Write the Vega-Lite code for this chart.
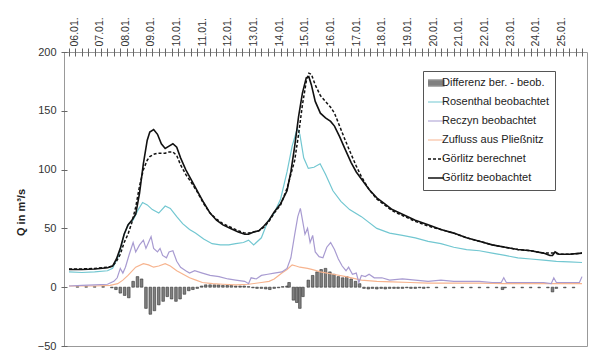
{
  "$schema": "https://vega.github.io/schema/vega-lite/v6.json",
  "width": 523,
  "height": 294,
  "autosize": "none",
  "padding": {"left": 64, "top": 52, "right": 24, "bottom": 13},
  "background": "white",
  "config": {
    "view": {"stroke": "#999", "strokeWidth": 1},
    "font": "Liberation Sans",
    "axis": {"labelFont": "Liberation Sans", "labelFontSize": 11, "labelColor": "#333", "titleFont": "Liberation Sans", "grid": false}
  },
  "encoding": {
    "x": {
      "field": "d", "type": "quantitative",
      "scale": {"domain": [6, 26], "nice": false, "zero": false},
      "axis": {
        "orient": "top", "title": null, "domain": false, "offset": -4, "tickSize": 8, "tickColor": "#666",
        "values": [6,6.25,6.5,6.75,7,7.25,7.5,7.75,8,8.25,8.5,8.75,9,9.25,9.5,9.75,10,10.25,10.5,10.75,11,11.25,11.5,11.75,12,12.25,12.5,12.75,13,13.25,13.5,13.75,14,14.25,14.5,14.75,15,15.25,15.5,15.75,16,16.25,16.5,16.75,17,17.25,17.5,17.75,18,18.25,18.5,18.75,19,19.25,19.5,19.75,20,20.25,20.5,20.75,21,21.25,21.5,21.75,22,22.25,22.5,22.75,23,23.25,23.5,23.75,24,24.25,24.5,24.75,25,25.25,25.5,25.75,26],
        "labelExpr": "datum.value % 1 == 0 && datum.value < 26 ? ((datum.value < 10 ? '0' : '') + datum.value + '.01.') : ''",
        "labelAngle": -90, "labelAlign": "left", "labelBaseline": "top", "labelPadding": 2,
        "labelOverlap": false, "labelBound": false, "labelFontSize": 10.5
      }
    },
    "y": {
      "field": "q", "type": "quantitative",
      "scale": {"domain": [-50, 200], "nice": false, "zero": false},
      "axis": {
        "title": "Q in m³/s", "titleFontWeight": "bold", "titleFontSize": 11, "titleColor": "#222",
        "titleX": -46, "titleY": 160, "titleAngle": -90, "titleAlign": "center", "titleBaseline": "middle",
        "domain": false, "offset": -3, "tickSize": 6, "tickColor": "#666",
        "values": [-50, 0, 50, 100, 150, 200], "labelPadding": 5
      }
    }
  },
  "layer": [
    {
      "data": {"values": [{"z": 0}]},
      "mark": {"type": "rule", "color": "#444", "strokeWidth": 1},
      "encoding": {"x": {"datum": 6}, "x2": {"datum": 26}, "y": {"datum": 0}}
    },
    {
      "data": {"values": [
        {"d":6.33,"q":0.5},{"d":6.67,"q":0.5},{"d":7.0,"q":0.5},{"d":7.33,"q":0.5},{"d":7.67,"q":-0.5},{"d":7.83,"q":-2},{"d":8.0,"q":-5},{"d":8.17,"q":-7},{"d":8.33,"q":-9},{"d":8.5,"q":5},{"d":8.67,"q":9},{"d":8.83,"q":7},{"d":9.0,"q":-18},{"d":9.17,"q":-23},{"d":9.33,"q":-20},{"d":9.5,"q":-15},{"d":9.67,"q":-12},{"d":9.83,"q":-8},{"d":10.0,"q":-10},{"d":10.17,"q":-12},{"d":10.33,"q":-10},{"d":10.5,"q":-6},{"d":10.67,"q":-3},{"d":10.83,"q":-2},{"d":11.0,"q":-1},{"d":11.17,"q":1},{"d":11.33,"q":2},{"d":11.5,"q":2},{"d":11.67,"q":2},{"d":11.83,"q":2},{"d":12.0,"q":1.5},{"d":12.17,"q":1.5},{"d":12.33,"q":1.5},{"d":12.5,"q":1},{"d":12.67,"q":1},{"d":12.83,"q":1},{"d":13.0,"q":0.5},{"d":13.17,"q":-0.5},{"d":13.33,"q":-1},{"d":13.5,"q":-1},{"d":13.67,"q":-1.5},{"d":13.83,"q":-2},{"d":14.0,"q":-1},{"d":14.17,"q":-0.5},{"d":14.33,"q":0.5},{"d":14.5,"q":1},{"d":14.58,"q":4},{"d":14.75,"q":-11},{"d":14.88,"q":-13},{"d":15.0,"q":-18},{"d":15.12,"q":-8},{"d":15.33,"q":6},{"d":15.5,"q":10},{"d":15.67,"q":13},{"d":15.83,"q":15},{"d":16.0,"q":16},{"d":16.17,"q":13},{"d":16.33,"q":11},{"d":16.5,"q":9},{"d":16.67,"q":8},{"d":16.83,"q":9},{"d":17.0,"q":7},{"d":17.17,"q":5},{"d":17.33,"q":3},{"d":17.5,"q":-1},{"d":17.67,"q":-1.5},{"d":17.83,"q":-1},{"d":18.0,"q":-1.5},{"d":18.17,"q":-1},{"d":18.33,"q":-1.5},{"d":18.5,"q":-1},{"d":18.67,"q":-1},{"d":18.83,"q":-1},{"d":19.0,"q":-1},{"d":19.17,"q":-0.5},{"d":19.33,"q":-1},{"d":19.5,"q":-1},{"d":19.67,"q":-0.5},{"d":19.83,"q":-1},{"d":20.0,"q":-0.5},{"d":20.33,"q":-0.5},{"d":20.67,"q":-0.5},{"d":21.0,"q":-0.5},{"d":21.33,"q":-0.5},{"d":21.67,"q":-0.5},{"d":22.0,"q":-0.5},{"d":22.33,"q":-0.5},{"d":22.67,"q":-0.5},{"d":22.9,"q":-2},{"d":23.0,"q":-0.5},{"d":23.33,"q":-0.5},{"d":23.67,"q":-0.5},{"d":24.0,"q":-0.5},{"d":24.33,"q":-0.5},{"d":24.67,"q":-0.5},{"d":24.85,"q":-4},{"d":25.0,"q":-1},{"d":25.33,"q":-0.5},{"d":25.67,"q":-0.5}
      ]},
      "mark": {"type": "bar", "orient": "vertical", "size": 2.6, "fill": "#808080", "stroke": "#333", "strokeWidth": 0.6},
      "encoding": {"y2": {"datum": 0}}
    },
    {
      "data": {"values": [
        {"d":6,"q":1},{"d":7,"q":1},{"d":7.6,"q":1.5},{"d":7.9,"q":3},{"d":8.1,"q":6},{"d":8.3,"q":10},{"d":8.6,"q":17},{"d":8.9,"q":20},{"d":9.1,"q":19},{"d":9.3,"q":17},{"d":9.5,"q":18},{"d":9.75,"q":20},{"d":9.95,"q":18},{"d":10.2,"q":14},{"d":10.45,"q":11},{"d":10.7,"q":8},{"d":10.95,"q":6},{"d":11.2,"q":4},{"d":11.6,"q":3},{"d":12.0,"q":2.5},{"d":12.5,"q":2},{"d":13.0,"q":2.5},{"d":13.5,"q":4},{"d":13.8,"q":5},{"d":14.0,"q":7},{"d":14.3,"q":12},{"d":14.5,"q":15},{"d":14.7,"q":19},{"d":14.85,"q":18},{"d":15.0,"q":17},{"d":15.3,"q":16},{"d":15.5,"q":15},{"d":15.8,"q":13},{"d":16.3,"q":11},{"d":16.8,"q":9},{"d":17.4,"q":6},{"d":18.0,"q":5},{"d":18.6,"q":4.5},{"d":19.3,"q":4},{"d":20.0,"q":3.5},{"d":21.0,"q":3.5},{"d":22.0,"q":3.5},{"d":23.0,"q":3},{"d":24.0,"q":3},{"d":25.0,"q":3},{"d":26.0,"q":3}
      ]},
      "mark": {"type": "line", "strokeWidth": 1.2},
      "encoding": {
        "color": {
          "datum": "Zufluss aus Pließnitz",
          "scale": {
            "domain": ["Differenz ber. - beob.", "Rosenthal beobachtet", "Reczyn beobachtet", "Zufluss aus Pließnitz", "Görlitz berechnet", "Görlitz beobachtet"],
            "range": ["#9a9a9a", "#72c7d1", "#a89bd1", "#f7b48f", "#111111", "#111111"]
          },
          "legend": {
            "title": null, "orient": "none", "legendX": 359, "legendY": 19, "padding": 5,
            "strokeColor": "#555", "fillColor": "white",
            "labelFont": "Liberation Sans", "labelFontSize": 11, "labelColor": "#222", "labelLimit": 200,
            "symbolType": "stroke", "symbolSize": 441, "symbolStrokeWidth": 1.3,
            "clipHeight": 14, "rowPadding": 5, "labelOffset": 3,
            "encode": {
              "symbols": {
                "update": {
                  "shape": {"signal": "datum.value === 'Differenz ber. - beob.' ? 'M-1,-0.3H1V0.3H-1Z' : 'stroke'"},
                  "fill": {"signal": "datum.value === 'Differenz ber. - beob.' ? '#808080' : 'transparent'"},
                  "stroke": {"signal": "datum.value === 'Differenz ber. - beob.' ? '#333' : scale('color', datum.value)"},
                  "strokeDash": {"signal": "datum.value === 'Görlitz berechnet' ? [3, 2] : [1, 0]"},
                  "strokeWidth": {"signal": "(datum.value === 'Görlitz berechnet' || datum.value === 'Görlitz beobachtet') ? 1.6 : 1.2"}
                }
              }
            }
          }
        }
      }
    },
    {
      "data": {"values": [
        {"d":6,"q":1},{"d":6.5,"q":1.5},{"d":7,"q":2},{"d":7.5,"q":2.5},{"d":7.75,"q":5},{"d":7.88,"q":8},{"d":8.0,"q":16},{"d":8.1,"q":12},{"d":8.2,"q":17},{"d":8.35,"q":28},{"d":8.5,"q":38},{"d":8.6,"q":30},{"d":8.75,"q":36},{"d":8.9,"q":40},{"d":9.0,"q":33},{"d":9.1,"q":38},{"d":9.2,"q":43},{"d":9.3,"q":33},{"d":9.45,"q":30},{"d":9.55,"q":33},{"d":9.65,"q":27},{"d":9.8,"q":25},{"d":9.9,"q":30},{"d":10.05,"q":31},{"d":10.2,"q":22},{"d":10.35,"q":17},{"d":10.55,"q":14},{"d":10.7,"q":12},{"d":10.9,"q":14},{"d":11.2,"q":12},{"d":11.5,"q":10},{"d":11.85,"q":9},{"d":12.2,"q":7},{"d":12.5,"q":6},{"d":12.85,"q":5},{"d":13.0,"q":3},{"d":13.1,"q":8},{"d":13.3,"q":7},{"d":13.5,"q":10},{"d":13.75,"q":11},{"d":14.0,"q":12},{"d":14.3,"q":13},{"d":14.5,"q":16},{"d":14.65,"q":25},{"d":14.8,"q":45},{"d":14.92,"q":60},{"d":15.02,"q":67},{"d":15.12,"q":55},{"d":15.2,"q":45},{"d":15.3,"q":50},{"d":15.4,"q":38},{"d":15.5,"q":44},{"d":15.6,"q":30},{"d":15.75,"q":26},{"d":15.9,"q":25},{"d":16.05,"q":34},{"d":16.2,"q":38},{"d":16.35,"q":32},{"d":16.5,"q":24},{"d":16.65,"q":18},{"d":16.8,"q":14},{"d":16.9,"q":17},{"d":17.05,"q":11},{"d":17.2,"q":12},{"d":17.3,"q":4},{"d":17.4,"q":10},{"d":17.55,"q":9},{"d":17.7,"q":11},{"d":17.9,"q":8},{"d":18.2,"q":8},{"d":18.5,"q":6},{"d":19.0,"q":7},{"d":19.5,"q":6},{"d":20.0,"q":5},{"d":20.5,"q":6},{"d":21.0,"q":5},{"d":21.5,"q":5},{"d":22.0,"q":5},{"d":22.5,"q":4},{"d":22.85,"q":4},{"d":22.95,"q":8},{"d":23.05,"q":4},{"d":23.5,"q":4},{"d":24.0,"q":4},{"d":24.5,"q":4},{"d":24.8,"q":3},{"d":24.9,"q":8},{"d":25.0,"q":4},{"d":25.5,"q":4},{"d":25.9,"q":4},{"d":26.0,"q":9}
      ]},
      "mark": {"type": "line", "strokeWidth": 1.2},
      "encoding": {"color": {"datum": "Reczyn beobachtet"}}
    },
    {
      "data": {"values": [
        {"d":6,"q":13},{"d":6.5,"q":12.5},{"d":7,"q":13},{"d":7.5,"q":14},{"d":7.7,"q":16},{"d":7.9,"q":25},{"d":8.0,"q":32},{"d":8.15,"q":45},{"d":8.33,"q":54},{"d":8.5,"q":57},{"d":8.7,"q":66},{"d":8.87,"q":72},{"d":9.05,"q":70},{"d":9.25,"q":66},{"d":9.5,"q":63},{"d":9.75,"q":69},{"d":9.95,"q":67},{"d":10.2,"q":60},{"d":10.43,"q":54},{"d":10.7,"q":49},{"d":10.93,"q":46},{"d":11.25,"q":41},{"d":11.58,"q":37},{"d":11.9,"q":36},{"d":12.23,"q":36},{"d":12.5,"q":37},{"d":12.8,"q":38},{"d":13.0,"q":40},{"d":13.2,"q":36},{"d":13.5,"q":42},{"d":13.75,"q":56},{"d":14.0,"q":63},{"d":14.25,"q":75},{"d":14.5,"q":98},{"d":14.7,"q":120},{"d":14.9,"q":135},{"d":15.0,"q":130},{"d":15.15,"q":110},{"d":15.33,"q":101},{"d":15.55,"q":102},{"d":15.79,"q":105},{"d":16.0,"q":96},{"d":16.29,"q":82},{"d":16.6,"q":73},{"d":16.94,"q":66},{"d":17.4,"q":60},{"d":18.0,"q":50},{"d":18.5,"q":46},{"d":19.0,"q":44},{"d":19.5,"q":42},{"d":20.0,"q":39},{"d":20.5,"q":37},{"d":21.0,"q":34},{"d":21.5,"q":32},{"d":22.0,"q":31},{"d":22.5,"q":29},{"d":23.0,"q":27},{"d":23.5,"q":25},{"d":24.0,"q":24},{"d":24.5,"q":23},{"d":25.0,"q":22},{"d":25.5,"q":21.5},{"d":26.0,"q":21}
      ]},
      "mark": {"type": "line", "strokeWidth": 1.2},
      "encoding": {"color": {"datum": "Rosenthal beobachtet"}}
    },
    {
      "data": {"values": [
        {"d":6,"q":15.5},{"d":6.5,"q":15.5},{"d":7,"q":16},{"d":7.5,"q":17},{"d":7.7,"q":18},{"d":7.85,"q":22},{"d":8,"q":28},{"d":8.15,"q":38},{"d":8.3,"q":45},{"d":8.45,"q":55},{"d":8.6,"q":68},{"d":8.75,"q":86},{"d":8.9,"q":100},{"d":9.05,"q":108},{"d":9.15,"q":111},{"d":9.3,"q":113},{"d":9.45,"q":114},{"d":9.6,"q":114},{"d":9.75,"q":114},{"d":9.9,"q":115},{"d":10.05,"q":115},{"d":10.2,"q":112},{"d":10.35,"q":104},{"d":10.55,"q":96},{"d":10.8,"q":88},{"d":11.0,"q":81},{"d":11.25,"q":71},{"d":11.5,"q":63},{"d":11.75,"q":58},{"d":12.0,"q":54},{"d":12.3,"q":51},{"d":12.6,"q":48},{"d":12.85,"q":46},{"d":13.0,"q":46},{"d":13.2,"q":47},{"d":13.4,"q":48},{"d":13.6,"q":51},{"d":13.8,"q":56},{"d":14.0,"q":63},{"d":14.25,"q":70},{"d":14.5,"q":84},{"d":14.65,"q":96},{"d":14.8,"q":108},{"d":14.95,"q":130},{"d":15.1,"q":155},{"d":15.25,"q":175},{"d":15.35,"q":182},{"d":15.45,"q":181},{"d":15.6,"q":172},{"d":15.8,"q":163},{"d":16.0,"q":158},{"d":16.2,"q":153},{"d":16.35,"q":148},{"d":16.55,"q":137},{"d":16.75,"q":126},{"d":17.0,"q":113},{"d":17.2,"q":103},{"d":17.4,"q":94},{"d":17.7,"q":83},{"d":18.0,"q":75},{"d":18.3,"q":70},{"d":18.6,"q":65},{"d":19.0,"q":61},{"d":19.5,"q":56},{"d":20.0,"q":52},{"d":20.5,"q":49},{"d":21.0,"q":46},{"d":21.5,"q":42},{"d":22.0,"q":39},{"d":22.5,"q":36},{"d":23.0,"q":34},{"d":23.5,"q":32},{"d":24.0,"q":31},{"d":24.5,"q":29},{"d":24.75,"q":29},{"d":24.95,"q":29},{"d":25.1,"q":28},{"d":25.5,"q":28},{"d":26,"q":29}
      ]},
      "mark": {"type": "line", "strokeWidth": 1.5, "strokeDash": [3, 2]},
      "encoding": {"color": {"datum": "Görlitz berechnet"}}
    },
    {
      "data": {"values": [
        {"d":6,"q":15},{"d":6.5,"q":15},{"d":7,"q":15.5},{"d":7.5,"q":16.5},{"d":7.7,"q":18},{"d":7.85,"q":24},{"d":8,"q":33},{"d":8.15,"q":45},{"d":8.3,"q":53},{"d":8.45,"q":57},{"d":8.6,"q":62},{"d":8.75,"q":80},{"d":8.9,"q":105},{"d":9.05,"q":125},{"d":9.15,"q":132},{"d":9.3,"q":134},{"d":9.45,"q":130},{"d":9.6,"q":122},{"d":9.75,"q":118},{"d":9.9,"q":120},{"d":10.05,"q":122},{"d":10.2,"q":119},{"d":10.35,"q":110},{"d":10.55,"q":100},{"d":10.8,"q":90},{"d":11.0,"q":82},{"d":11.25,"q":72},{"d":11.5,"q":63},{"d":11.75,"q":57},{"d":12.0,"q":53},{"d":12.3,"q":50},{"d":12.6,"q":47},{"d":12.85,"q":45},{"d":13.0,"q":45},{"d":13.2,"q":47},{"d":13.4,"q":48},{"d":13.6,"q":52},{"d":13.8,"q":57},{"d":14.0,"q":64},{"d":14.25,"q":71},{"d":14.5,"q":82},{"d":14.65,"q":98},{"d":14.8,"q":120},{"d":14.95,"q":145},{"d":15.1,"q":165},{"d":15.25,"q":178},{"d":15.35,"q":179},{"d":15.45,"q":172},{"d":15.6,"q":158},{"d":15.8,"q":148},{"d":16.0,"q":144},{"d":16.2,"q":141},{"d":16.35,"q":137},{"d":16.55,"q":128},{"d":16.75,"q":118},{"d":17.0,"q":106},{"d":17.2,"q":98},{"d":17.4,"q":92},{"d":17.7,"q":83},{"d":18.0,"q":76},{"d":18.3,"q":71},{"d":18.6,"q":66},{"d":19.0,"q":62},{"d":19.5,"q":57},{"d":20.0,"q":53},{"d":20.5,"q":49},{"d":21.0,"q":46},{"d":21.5,"q":42},{"d":22.0,"q":39},{"d":22.5,"q":36},{"d":23.0,"q":34},{"d":23.5,"q":32},{"d":24.0,"q":31},{"d":24.5,"q":29},{"d":24.75,"q":27},{"d":24.85,"q":27},{"d":24.95,"q":30},{"d":25.1,"q":28},{"d":25.5,"q":28},{"d":26,"q":29}
      ]},
      "mark": {"type": "line", "strokeWidth": 1.6},
      "encoding": {"color": {"datum": "Görlitz beobachtet"}}
    }
  ]
}
